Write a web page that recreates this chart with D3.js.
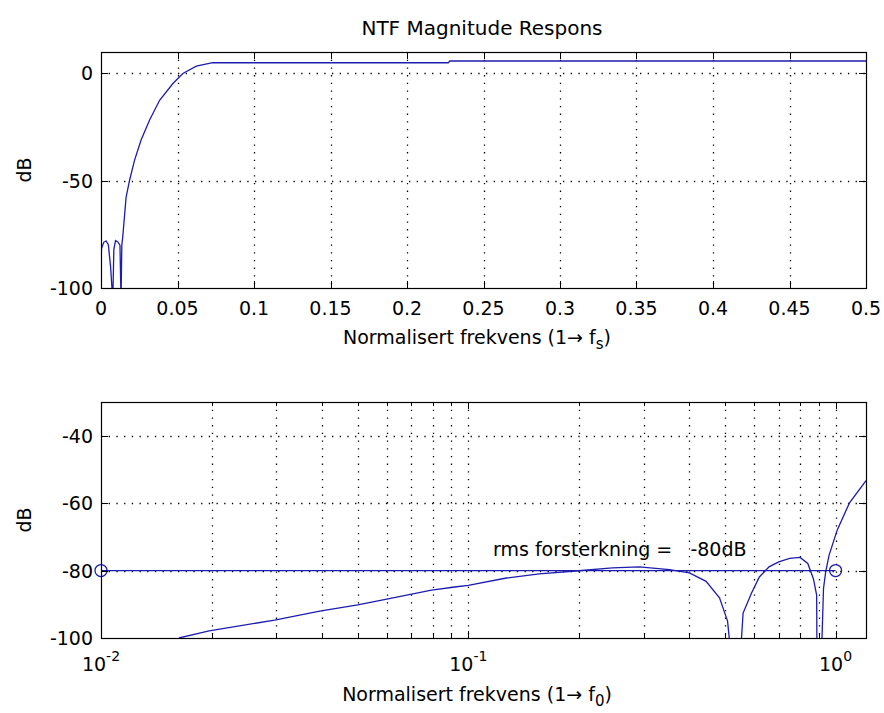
<!DOCTYPE html>
<html>
<head>
<meta charset="utf-8">
<script src="https://cdn.jsdelivr.net/npm/d3@7"></script>
<style>
body { margin: 0; background: #fff; }
text { font-family: "DejaVu Sans", sans-serif; fill: #000; }
</style>
</head>
<body>
<svg id="fig" width="884" height="713"></svg>
<script>
// ---- data ----
// upper plot: linear frequency axis
var linFreq = [0, 0.0003, 0.0018, 0.0033, 0.0048, 0.0063, 0.0077, 0.0084, 0.0095, 0.011, 0.0124, 0.0131, 0.0136,
               0.0142, 0.0164, 0.0186, 0.0219, 0.0262, 0.0317, 0.0383, 0.047, 0.0535, 0.0623, 0.073, 0.08, 0.227, 0.228, 0.5];
var linDb = [-87, -81.6, -78.7, -78, -79.8, -90.4, -106, -82, -77.9, -78.5, -80, -106, -80,
             -76.3, -57.7, -50, -40.5, -31, -21.8, -12.5, -4.7, 0, 3.4, 5.0, 5.0, 5.0, 5.8, 5.8];

// lower plot: log frequency axis
var logFreq = [0.0163, 0.0197, 0.0297, 0.0394, 0.050, 0.060, 0.0794, 0.093, 0.1, 0.127, 0.156, 0.192, 0.247, 0.292,
               0.353, 0.40, 0.444, 0.483, 0.508, 0.520, 0.55, 0.56, 0.59, 0.62, 0.659, 0.70, 0.75, 0.80, 0.84,
               0.87, 0.888, 0.89, 0.915, 0.927, 0.94, 0.96, 1.01, 1.09, 1.21];
var logDb = [-100, -97.9, -94.7, -92, -90.2, -88.5, -85.8, -84.8, -84.4, -82.2, -81, -80.2, -79.2, -78.9,
             -79.7, -80.7, -83.2, -88.1, -95, -106, -106, -92.6, -86.7, -81.9, -78.9, -77.4, -76.4, -76.1, -77.9,
             -82.4, -87.3, -106, -106, -85.3, -80.3, -75.4, -68, -60, -53.3];

var rmsFreq = [0.01, 1];
var rmsDb = [-80, -80];
var rmsText = "rms forsterkning =   -80dB";

var linTicksX = [0, 0.05, 0.1, 0.15, 0.2, 0.25, 0.3, 0.35, 0.4, 0.45, 0.5];
var linTickLabels = ["0", "0.05", "0.1", "0.15", "0.2", "0.25", "0.3", "0.35", "0.4", "0.45", "0.5"];
var linTicksY = [0, -50, -100];
var logTicksY = [-40, -60, -80, -100];
var logDecades = [-2, -1, 0];

var titleText = "NTF Magnitude Respons";

// ---- layout ----
var svg = d3.select("#fig");
var lineColor = "#1c1cb0";
var left = 101, right = 866;

var x1 = d3.scaleLinear().domain([0, 0.5]).range([left, right]);
var y1 = d3.scaleLinear().domain([-100, 10]).range([288, 52]);
var x2 = d3.scaleLog().domain([0.01, 1.21]).range([left, right]);
var y2 = d3.scaleLinear().domain([-100, -30]).range([638, 402]);

var defs = svg.append("defs");
defs.append("clipPath").attr("id", "clipTop").append("rect")
    .attr("x", left).attr("y", 52).attr("width", right - left).attr("height", 288 - 52);
defs.append("clipPath").attr("id", "clipBot").append("rect")
    .attr("x", left).attr("y", 402).attr("width", right - left).attr("height", 638 - 402);

function vgrid(g, xs, sc, y0, y1p) {
    g.selectAll(null).data(xs).enter().append("line")
        .attr("x1", function (d) { return Math.round(sc(d)) + 0.5; })
        .attr("x2", function (d) { return Math.round(sc(d)) + 0.5; })
        .attr("y1", y0).attr("y2", y1p)
        .attr("stroke", "#000").attr("stroke-width", 1.3)
        .attr("stroke-dasharray", "1.3,6.4");
}
function hgrid(g, ys, sc, x0, x1p) {
    g.selectAll(null).data(ys).enter().append("line")
        .attr("y1", function (d) { return Math.round(sc(d)) + 0.5; })
        .attr("y2", function (d) { return Math.round(sc(d)) + 0.5; })
        .attr("x1", x0).attr("x2", x1p)
        .attr("stroke", "#000").attr("stroke-width", 1.3)
        .attr("stroke-dasharray", "1.3,6.4");
}
function xticks(g, xs, sc, yb, yt, len) {
    xs.forEach(function (d) {
        var px = Math.round(sc(d)) + 0.5;
        g.append("line").attr("x1", px).attr("x2", px).attr("y1", yb).attr("y2", yb - len)
            .attr("stroke", "#000");
        g.append("line").attr("x1", px).attr("x2", px).attr("y1", yt).attr("y2", yt + len)
            .attr("stroke", "#000");
    });
}
function yticks(g, ys, sc, len) {
    ys.forEach(function (d) {
        var py = Math.round(sc(d)) + 0.5;
        g.append("line").attr("x1", left).attr("x2", left + len).attr("y1", py).attr("y2", py)
            .attr("stroke", "#000");
        g.append("line").attr("x1", right).attr("x2", right - len).attr("y1", py).attr("y2", py)
            .attr("stroke", "#000");
    });
}
function box(g, top, bottom) {
    g.append("rect").attr("x", left + 0.5).attr("y", top + 0.5)
        .attr("width", right - left).attr("height", bottom - top)
        .attr("fill", "none").attr("stroke", "#000").attr("stroke-width", 1.2);
}
function xlabel(g, y, sub) {
    var t = g.append("text").attr("x", 477).attr("y", y).attr("text-anchor", "middle")
        .style("font-size", "19px");
    t.append("tspan").text("Normalisert frekvens (1\u2192 f");
    t.append("tspan").attr("dy", 5).style("font-size", "15px").text(sub);
    t.append("tspan").attr("dy", -5).text(")");
}
function ylabel(g, cy) {
    g.append("text").attr("transform", "translate(31," + cy + ") rotate(-90)")
        .attr("text-anchor", "middle").style("font-size", "19px").text("dB");
}

// ---- upper plot ----
var gTop = svg.append("g");
vgrid(gTop, linTicksX.slice(1, -1), x1, 52, 288);
hgrid(gTop, linTicksY.slice(0, -1), y1, left, right);

var line1 = d3.line()
    .x(function (d, i) { return x1(linFreq[i]); })
    .y(function (d) { return y1(d); });
gTop.append("path").attr("clip-path", "url(#clipTop)")
    .attr("d", line1(linDb))
    .attr("fill", "none").attr("stroke", lineColor).attr("stroke-width", 1.3);

xticks(gTop, linTicksX, x1, 288, 52, 7);
yticks(gTop, linTicksY, y1, 7);
box(gTop, 52, 288);

gTop.selectAll(".xl").data(linTicksX).enter().append("text")
    .attr("x", function (d) { return x1(d); }).attr("y", 315)
    .attr("text-anchor", "middle").style("font-size", "19px")
    .text(function (d, i) { return linTickLabels[i]; });
gTop.selectAll(".yl").data(linTicksY).enter().append("text")
    .attr("x", 93).attr("y", function (d) { return y1(d) + 7; })
    .attr("text-anchor", "end").style("font-size", "19px")
    .text(function (d) { return d; });
xlabel(gTop, 344, "s");
ylabel(gTop, 170);
svg.append("text").attr("x", 482).attr("y", 35).attr("text-anchor", "middle")
    .style("font-size", "20px").text(titleText);

// ---- lower plot ----
var gBot = svg.append("g");
var majors = logDecades.map(function (e) { return Math.pow(10, e); });
var minors = [];
logDecades.forEach(function (e) {
    for (var k = 2; k <= 9; k++) {
        var v = k * Math.pow(10, e);
        if (v <= 1.21) minors.push(v);
    }
});
vgrid(gBot, majors.slice(1).concat(minors), x2, 402, 638);
hgrid(gBot, logTicksY.slice(0, -1), y2, left, right);

var line2 = d3.line()
    .x(function (d, i) { return x2(logFreq[i]); })
    .y(function (d) { return y2(d); });
gBot.append("path").attr("clip-path", "url(#clipBot)")
    .attr("d", line2(logDb))
    .attr("fill", "none").attr("stroke", lineColor).attr("stroke-width", 1.3);

var rmsLine = d3.line()
    .x(function (d, i) { return x2(rmsFreq[i]); })
    .y(function (d) { return y2(d); });
gBot.append("path").attr("d", rmsLine(rmsDb))
    .attr("fill", "none").attr("stroke", lineColor).attr("stroke-width", 1.3);
gBot.selectAll(".mk").data(rmsDb).enter().append("circle")
    .attr("cx", function (d, i) { return x2(rmsFreq[i]); })
    .attr("cy", function (d) { return y2(d); })
    .attr("r", 6).attr("fill", "none").attr("stroke", lineColor).attr("stroke-width", 1.3);
gBot.append("text").attr("x", 493).attr("y", 556).style("font-size", "19px")
    .attr("xml:space", "preserve").style("white-space", "pre").text(rmsText);

xticks(gBot, majors, x2, 638, 402, 7);
xticks(gBot, minors, x2, 638, 402, 4);
yticks(gBot, logTicksY, y2, 7);
box(gBot, 402, 638);

logDecades.forEach(function (e, i) {
    var t = gBot.append("text").attr("x", x2(majors[i])).attr("y", 671)
        .attr("text-anchor", "middle").style("font-size", "19px");
    t.append("tspan").text("10");
    t.append("tspan").attr("dy", -10).style("font-size", "14px").text(String(e));
});
gBot.selectAll(".yl").data(logTicksY).enter().append("text")
    .attr("x", 93).attr("y", function (d) { return y2(d) + 7; })
    .attr("text-anchor", "end").style("font-size", "19px")
    .text(function (d) { return d; });
xlabel(gBot, 701, "0");
ylabel(gBot, 520);
</script>
</body>
</html>
